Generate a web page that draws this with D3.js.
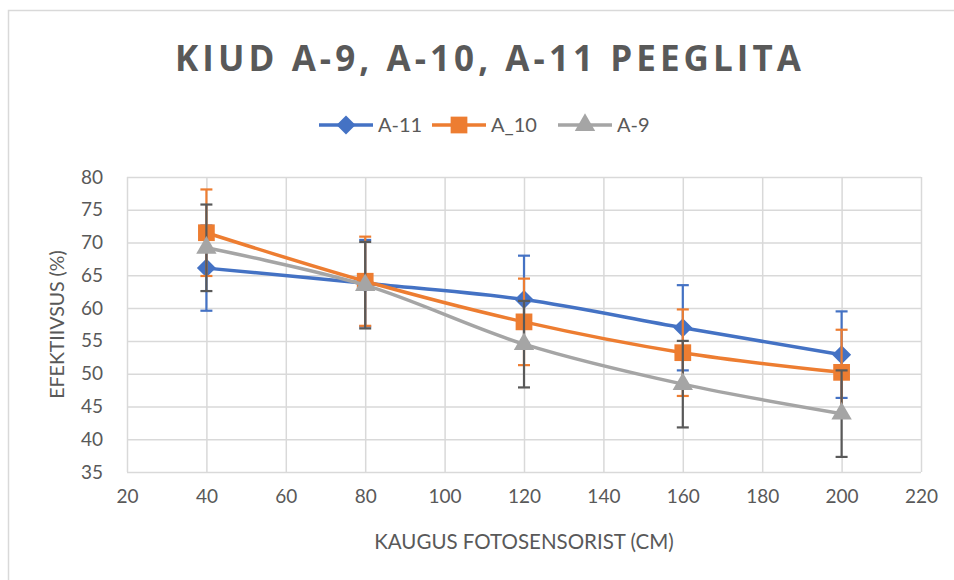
<!DOCTYPE html>
<html>
<head>
<meta charset="utf-8">
<script src="https://cdn.jsdelivr.net/npm/d3@7"></script>
<style>
  body { margin: 0; background: #fff; }
  svg { font-family: Lato, "Open Sans", sans-serif; }
</style>
</head>
<body>
<div id="chart_div"></div>
<script>
// data
var distances = [40, 80, 120, 160, 200];
var seriesNames = ['A-11', 'A_10', 'A-9'];
var a11Values = [66.1, 63.8, 61.3, 57.0, 52.9];
var a10Values = [71.5, 64.1, 57.9, 53.2, 50.2];
var a9Values = [69.2, 63.5, 54.5, 48.4, 43.9];
var a11Errors = [6.5, 6.6, 6.7, 6.5, 6.6];
var a10Errors = [6.6, 6.8, 6.6, 6.6, 6.5];
var a9Errors = [6.6, 6.6, 6.6, 6.6, 6.6];
var xTicks = [20, 40, 60, 80, 100, 120, 140, 160, 180, 200, 220];
var yTicks = [35, 40, 45, 50, 55, 60, 65, 70, 75, 80];

var width = 954, height = 580;
var margin = {top: 177, right: 33, bottom: 108, left: 127},
    innerW = width - margin.left - margin.right,
    innerH = height - margin.top - margin.bottom;

var svg = d3.select('#chart_div').append('svg')
  .attr('width', width)
  .attr('height', height);

// outer chart border
svg.append('rect')
  .attr('x', 8.5).attr('y', 10.5)
  .attr('width', width).attr('height', height)
  .style('fill', 'none').style('stroke', '#d9d9d9').style('stroke-width', '1.5px');

var xScale = d3.scaleLinear().domain([20, 220]).range([0, innerW]);
var yScale = d3.scaleLinear().domain([35, 80]).range([innerH, 0]);

var g = svg.append('g')
  .attr('transform', 'translate(' + margin.left + ',' + margin.top + ')');

// grid
g.append('g')
  .attr('class', 'ygrid')
  .call(d3.axisLeft(yScale).tickValues(yTicks).tickSize(-innerW).tickFormat(''));
g.append('g')
  .attr('class', 'xgrid')
  .attr('transform', 'translate(0,' + innerH + ')')
  .call(d3.axisBottom(xScale).tickValues(xTicks).tickSize(-innerH).tickFormat(''));
g.selectAll('.ygrid line, .xgrid line')
  .style('stroke', '#d9d9d9').style('stroke-width', '1.5px');
g.selectAll('path.domain').style('stroke', 'none');

// axis labels
g.append('g')
  .attr('class', 'yaxis')
  .call(d3.axisLeft(yScale).tickValues(yTicks).tickSize(0).tickPadding(24));
g.append('g')
  .attr('class', 'xaxis')
  .attr('transform', 'translate(0,' + innerH + ')')
  .call(d3.axisBottom(xScale).tickValues(xTicks).tickSize(0).tickPadding(18));
g.selectAll('.yaxis text, .xaxis text')
  .style('fill', '#595959').style('font-size', '19px')
  .style('font-family', 'Lato, "Open Sans", sans-serif');
g.selectAll('.yaxis path.domain, .xaxis path.domain').style('stroke', 'none');

var colors = ['#4472c4', '#ed7d31', '#a5a5a5'];
var errColors = ['#4472c4', '#ed7d31', '#595959'];
var allValues = [a11Values, a10Values, a9Values];
var allErrors = [a11Errors, a10Errors, a9Errors];

var markerPath = [
  d3.symbol().type(d3.symbolDiamond2).size(230)(),
  d3.symbol().type(d3.symbolSquare).size(280)(),
  d3.symbol().type(d3.symbolTriangle).size(180)()
];

seriesNames.forEach(function(name, i) {
  var rows = distances.map(function(d, j) {
    return {x: d, y: allValues[i][j], e: allErrors[i][j]};
  });

  var line = d3.line()
    .curve(d3.curveCatmullRom.alpha(0))
    .x(function(d) { return xScale(d.x); })
    .y(function(d) { return yScale(d.y); });

  g.append('path')
    .datum(rows)
    .attr('d', line)
    .style('fill', 'none')
    .style('stroke', colors[i])
    .style('stroke-width', '3.5px')
    .style('stroke-linejoin', 'round');

  var eb = g.append('g').attr('class', 'err' + i);
  rows.forEach(function(d) {
    var cx = xScale(d.x);
    eb.append('line')
      .attr('x1', cx).attr('x2', cx)
      .attr('y1', yScale(d.y - d.e)).attr('y2', yScale(d.y + d.e));
    [d.y - d.e, d.y + d.e].forEach(function(v) {
      eb.append('line')
        .attr('x1', cx - 6).attr('x2', cx + 6)
        .attr('y1', yScale(v)).attr('y2', yScale(v));
    });
  });
  eb.selectAll('line').style('stroke', errColors[i]).style('stroke-width', '2.2px');

  g.selectAll('path.marker' + i)
    .data(rows)
    .enter().append('path')
    .attr('class', 'marker' + i)
    .attr('d', markerPath[i])
    .attr('transform', function(d) {
      return 'translate(' + xScale(d.x) + ',' + yScale(d.y) + ')';
    })
    .style('fill', colors[i]);
});

// title
svg.append('text')
  .attr('x', 488).attr('y', 71)
  .attr('text-anchor', 'middle')
  .attr('textLength', 626)
  .attr('lengthAdjust', 'spacing')
  .style('font-family', '"Open Sans", sans-serif')
  .style('font-weight', 'bold')
  .style('font-size', '35px')
  .style('fill', '#595959')
  .text('KIUD A-9, A-10, A-11 PEEGLITA');

// legend
var legendX = [319, 432, 558];
seriesNames.forEach(function(name, i) {
  var lg = svg.append('g').attr('transform', 'translate(' + legendX[i] + ',125)');
  lg.append('line')
    .attr('x1', 0).attr('x2', 54).attr('y1', 0).attr('y2', 0)
    .style('stroke', colors[i]).style('stroke-width', '3.5px');
  lg.append('path')
    .attr('d', markerPath[i])
    .attr('transform', 'translate(27,0)')
    .style('fill', colors[i]);
  lg.append('text')
    .attr('x', 59).attr('y', 7)
    .style('font-size', '20px')
    .style('fill', '#595959')
    .text(name);
});

// axis titles
svg.append('text')
  .attr('transform', 'translate(64,' + (margin.top + innerH / 2) + ') rotate(-90)')
  .attr('text-anchor', 'middle')
  .style('font-size', '19.5px')
  .style('fill', '#595959')
  .text('EFEKTIIVSUS (%)');

svg.append('text')
  .attr('x', 524).attr('y', 549)
  .attr('text-anchor', 'middle')
  .style('font-size', '20.5px')
  .style('fill', '#595959')
  .text('KAUGUS FOTOSENSORIST (CM)');
</script>
</body>
</html>
